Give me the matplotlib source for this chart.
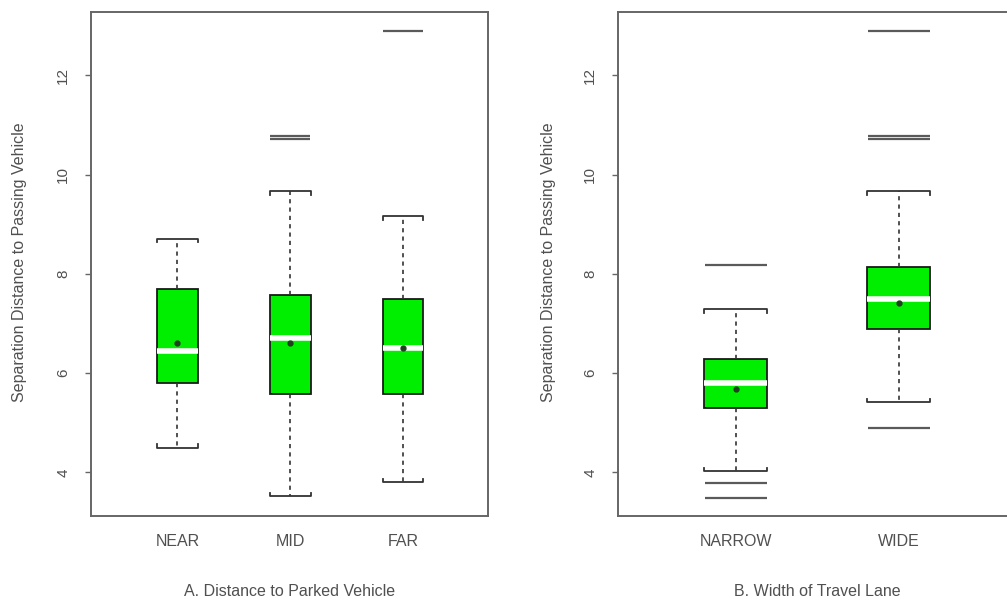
import matplotlib
matplotlib.use("Agg")
import matplotlib.pyplot as plt

plt.rcParams["font.family"] = ["Liberation Sans", "DejaVu Sans"]

# Panel A: distance to parked vehicle
dist_groups = ["NEAR", "MID", "FAR"]
dist_whislo = [4.50, 3.52, 3.80]
dist_q1 = [5.80, 5.59, 5.59]
dist_med = [6.44, 6.70, 6.50]
dist_q3 = [7.70, 7.58, 7.49]
dist_whishi = [8.71, 9.66, 9.16]
dist_mean = [6.60, 6.61, 6.50]
dist_fliers = [[], [10.72, 10.78], [12.90]]

# Panel B: width of travel lane
lane_groups = ["NARROW", "WIDE"]
lane_whislo = [4.02, 5.41]
lane_q1 = [5.30, 6.88]
lane_med = [5.81, 7.50]
lane_q3 = [6.28, 8.13]
lane_whishi = [7.29, 9.66]
lane_mean = [5.69, 7.41]
lane_fliers = [[3.79, 3.48, 8.17], [4.89, 10.72, 10.78, 12.90]]

ylabel = "Separation Distance to Passing Vehicle"
GREEN = "#00ee00"
TEXT = "#505050"
FRAME = "#666666"


def draw_panel(ax, groups, whislo, q1, med, q3, whishi, mean, fliers,
               width, xlim, flier_pts):
    stats = []
    for i, name in enumerate(groups):
        stats.append(dict(label=name, whislo=whislo[i], q1=q1[i], med=med[i],
                          q3=q3[i], whishi=whishi[i], mean=mean[i],
                          fliers=fliers[i]))
    pos = list(range(1, len(groups) + 1))
    ax.bxp(stats, positions=pos, widths=width, patch_artist=True,
           showcaps=False, showmeans=True,
           boxprops=dict(facecolor=GREEN, edgecolor="#1a1a1a", linewidth=1.3),
           medianprops=dict(color="white", linewidth=4, solid_capstyle="butt"),
           whiskerprops=dict(color="#333333", linewidth=1.2,
                             linestyle=(0, (2.5, 2.5))),
           meanprops=dict(marker="o", markersize=3.5, markerfacecolor="#1f3f1f",
                          markeredgecolor="#1f3f1f"),
           flierprops=dict(marker="_", markersize=flier_pts,
                           markeredgewidth=1.6, markeredgecolor="#5a5a5a"))

    # bracket-shaped caps
    d = 0.07
    for x, lo, hi in zip(pos, whislo, whishi):
        l, r = x - width / 2, x + width / 2
        ax.plot([l, l, r, r], [lo + d, lo, lo, lo + d], color="#333333", lw=1.3)
        ax.plot([l, l, r, r], [hi - d, hi, hi, hi - d], color="#333333", lw=1.3)

    ax.set_xlim(*xlim)
    ax.set_ylim(3.124, 13.276)
    ax.set_yticks([4, 6, 8, 10, 12])
    ax.set_xticks(pos)
    ax.set_xticklabels(groups, fontsize=11.5, color=TEXT)
    ax.tick_params(axis="x", length=0, pad=13)
    ax.tick_params(axis="y", length=4, width=1, color=FRAME, pad=11,
                   labelsize=11, labelcolor=TEXT, labelrotation=90)
    for lbl in ax.get_yticklabels():
        lbl.set_verticalalignment("center")
    for sp in ax.spines.values():
        sp.set_color(FRAME)
        sp.set_linewidth(1.4)


fig = plt.figure(figsize=(10.07, 6.03), dpi=100)

ax1 = fig.add_axes([0.0904, 0.1443, 0.394, 0.836])
draw_panel(ax1, dist_groups, dist_whislo, dist_q1, dist_med, dist_q3,
           dist_whishi, dist_mean, dist_fliers, 0.36, (0.235, 3.75), 29.5)

ax2 = fig.add_axes([0.6137, 0.1443, 0.396, 0.836])
draw_panel(ax2, lane_groups, lane_whislo, lane_q1, lane_med, lane_q3,
           lane_whishi, lane_mean, lane_fliers, 0.387, (0.276, 2.724), 45)

fig.text(20 / 1007, 0.566, ylabel, rotation=90, ha="center", va="center",
         fontsize=11.5, color=TEXT)
fig.text(548 / 1007, 0.566, ylabel, rotation=90, ha="center", va="center",
         fontsize=11.5, color=TEXT)
fig.text(290 / 1007, 1 - 591 / 603, "A. Distance to Parked Vehicle",
         ha="center", va="center", fontsize=11.5, color=TEXT)
fig.text(817 / 1007, 1 - 591 / 603, "B. Width of Travel Lane",
         ha="center", va="center", fontsize=11.5, color=TEXT)

fig.savefig("out.png", dpi=100)
